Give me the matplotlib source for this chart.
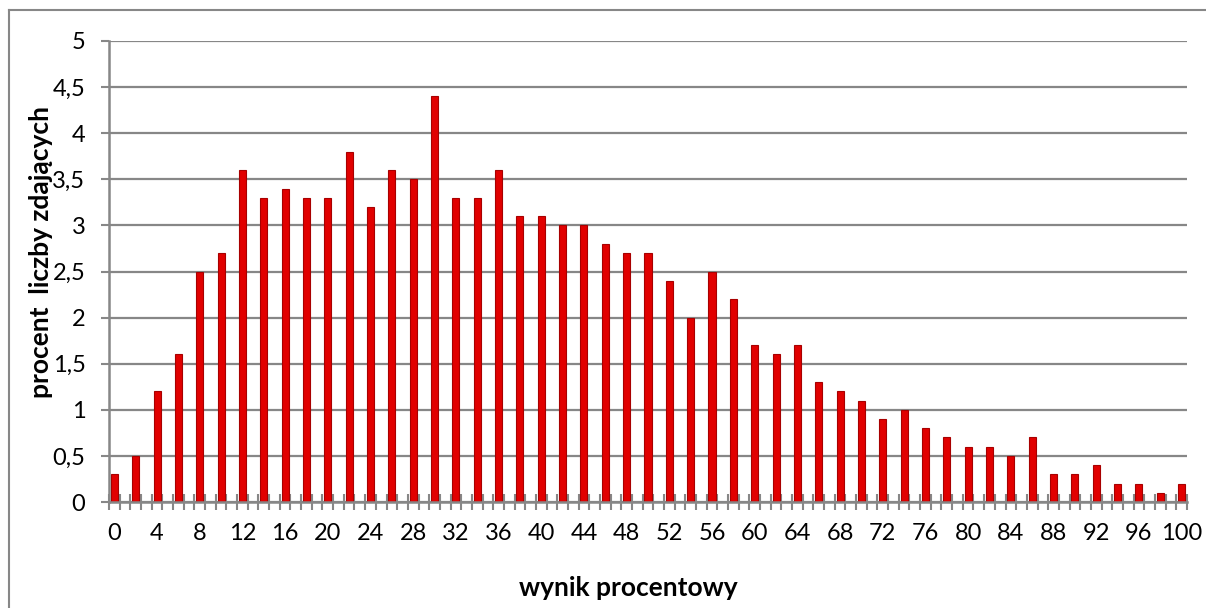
import matplotlib.pyplot as plt
from matplotlib.lines import Line2D
from matplotlib.ticker import FixedLocator, FuncFormatter
import numpy as np

# Dane: wynik procentowy (co 2 punkty) i procent liczby zdających
wynik = list(range(0, 101, 2))
procent = [0.3, 0.5, 1.2, 1.6, 2.5, 2.7, 3.6, 3.3, 3.4, 3.3,
           3.3, 3.8, 3.2, 3.6, 3.5, 4.4, 3.3, 3.3, 3.6, 3.1,
           3.1, 3.0, 3.0, 2.8, 2.7, 2.7, 2.4, 2.0, 2.5, 2.2,
           1.7, 1.6, 1.7, 1.3, 1.2, 1.1, 0.9, 1.0, 0.8, 0.7,
           0.6, 0.6, 0.5, 0.7, 0.3, 0.3, 0.4, 0.2, 0.2, 0.1,
           0.2]
etykiety_x = list(range(0, 101, 4))
etykiety_y = [0, 0.5, 1, 1.5, 2, 2.5, 3, 3.5, 4, 4.5, 5]

plt.rcParams['font.family'] = ['Lato', 'DejaVu Sans']
szary = '#878787'

fig = plt.figure(figsize=(12.06, 6.08), dpi=100)
ax = fig.add_axes([0.0904, 0.1743, 0.8938, 0.7583])

ax.bar(wynik, procent, width=0.66, color='#E10000', edgecolor='#A80000',
       linewidth=0.8, zorder=3)

ax.set_xlim(-0.5, 100.5)
ax.set_ylim(0, 5)

# os X: etykiety co 4, kreski na granicach kategorii
ax.xaxis.set_major_locator(FixedLocator(etykiety_x))
ax.xaxis.set_minor_locator(FixedLocator(np.arange(-0.5, 101, 1)))
ax.tick_params(axis='x', which='major', length=0, pad=15, labelsize=17)
ax.tick_params(axis='x', which='minor', direction='inout', length=12,
               width=1.5, color=szary)

# os Y
ax.set_yticks(etykiety_y)
ax.yaxis.set_major_formatter(FuncFormatter(lambda v, p: f'{v:g}'.replace('.', ',')))
ax.tick_params(axis='y', direction='out', length=6, width=1.5, color=szary,
               pad=11, labelsize=17)
ax.grid(axis='y', color=szary, linewidth=1.6, zorder=0)
ax.set_axisbelow(True)

for s in ['top', 'right']:
    ax.spines[s].set_visible(False)
for s in ['left', 'bottom']:
    ax.spines[s].set_color(szary)
    ax.spines[s].set_linewidth(1.8)
ax.spines['bottom'].set_zorder(4)

fig.text(0.034, 0.585, 'procent  liczby zdających', rotation=90, fontsize=19,
         fontweight='bold', ha='center', va='center')
fig.text(0.521, 0.033, 'wynik procentowy', fontsize=19, fontweight='bold',
         ha='center', va='center')

# ramka wykresu (lewa i gorna krawedz)
fig.add_artist(Line2D([0.0075, 0.0075], [0, 0.984], transform=fig.transFigure,
                      color=szary, linewidth=1.5))
fig.add_artist(Line2D([0.0075, 1], [0.984, 0.984], transform=fig.transFigure,
                      color=szary, linewidth=1.5))

fig.savefig('out.png', dpi=100)
